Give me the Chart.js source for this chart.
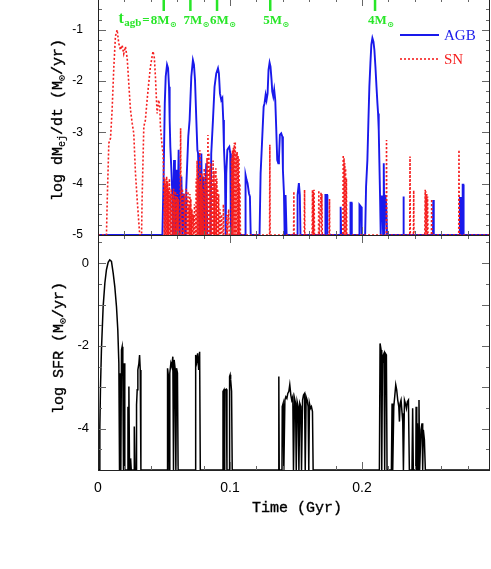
<!DOCTYPE html>
<html>
<head>
<meta charset="utf-8">
<script src="https://cdn.jsdelivr.net/npm/chart.js@4.4.1/dist/chart.umd.min.js"></script>
<style>
body { margin: 0; background: #fff; }
#wrap { position: relative; width: 491px; height: 569px; overflow: hidden; }
canvas { position: absolute; left: 0; }
#cTop { top: -2px; }
#cBot { top: 0; }
.title { position: absolute; font: 15px "Liberation Mono", monospace; white-space: nowrap; transform: translate(-50%, -50%); color: #000; -webkit-text-stroke: 0.35px #000; }
.rot { transform: translate(-50%, -50%) rotate(-90deg); }
.title sub { font-size: 10px; vertical-align: -3px; line-height: 0; -webkit-text-stroke: 0.2px #000; }
</style>
</head>
<body>
<div id="wrap">
<canvas id="cTop" width="491" height="260"></canvas>
<canvas id="cBot" width="491" height="569"></canvas>
<div class="title rot" style="left:58px;top:120px">log dM<sub>ej</sub>/dt (M<sub>⊙</sub>/yr)</div>
<div class="title rot" style="left:59px;top:348px">log SFR (M<sub>⊙</sub>/yr)</div>
<div class="title" style="left:297px;top:508px">Time (Gyr)</div>
</div>
<script>
// time axis (Gyr)
const tMin = 0;
const tMax = 0.297;

// t_agb markers: lifetime of the AGB progenitor masses
const agbMasses = ['8', '7', '6', '5', '4'];
const agbTimes = [0.0498, 0.0700, 0.0902, 0.1305, 0.2099];

// SN ejection rate, [time (Gyr), log dMej/dt]
const snPoints = [
  [0, -5], [.0064, -5], [.0070, -4.32], [.0082, -3.21], [.0095, -3.11], [.0107, -2.56], [.0120, -1.72], [.0132, -1.13],
  [.0145, -1.00], [.0157, -1.26], [.0170, -1.39], [.0183, -1.30], [.0195, -1.47], [.0208, -1.33], [.0221, -1.55],
  [.0233, -2.04], [.0246, -2.56], [.0259, -2.82], [.0271, -3.02], [.0284, -3.80], [.0297, -4.32], [.0316, -5],
  [.0330, -5], [.0334, -4.32], [.0347, -2.89], [.0359, -2.76], [.0372, -2.37], [.0384, -2.05], [.0397, -1.72],
  [.0410, -1.52], [.0417, -1.42], [.0427, -1.55], [.0435, -1.91], [.0443, -2.37], [.0448, -2.63], [.0460, -2.37],
  [.0468, -2.50], [.0473, -2.89], [.0486, -3.28], [.0493, -3.41], [.0498, -3.90], [.0502, -5],
  [.0506, -3.9], [.0510, -5], [.0513, -4.0], [.0517, -5], [.0520, -3.86], [.0524, -5], [.0527, -3.95], [.0531, -5],
  [.0534, -4.1], [.0538, -5], [.0541, -3.9], [.0545, -5], [.0548, -4.2], [.0552, -5], [.0555, -4.1], [.0559, -5],
  [.0566, -4.2], [.0570, -5], [.0573, -4.1], [.0577, -5], [.0580, -4.3], [.0584, -5], [.0587, -4.15], [.0591, -5],
  [.0594, -4.25], [.0598, -5], [.0601, -4.2], [.0605, -5], [.0608, -4.3], [.0612, -5],
  [.0622, -5], [.0626, -2.92], [.0630, -5],
  [.0640, -4.1], [.0644, -5], [.0647, -4.3], [.0651, -5], [.0654, -4.2], [.0658, -5], [.0661, -4.45], [.0665, -5],
  [.0668, -4.1], [.0672, -5], [.0675, -4.3], [.0679, -5], [.0682, -4.15], [.0686, -5], [.0689, -4.4], [.0693, -5],
  [.0696, -4.2], [.0700, -5], [.0703, -4.3], [.0707, -5], [.0712, -4.5], [.0716, -5], [.0722, -4.6], [.0726, -5],
  [.0731, -4.4], [.0735, -5],
  [.0740, -5], [.0744, -3.9], [.0748, -5], [.0751, -3.55], [.0755, -5], [.0758, -3.7], [.0762, -5], [.0765, -3.9],
  [.0769, -5], [.0772, -3.35], [.0776, -5], [.0779, -4.0], [.0783, -5], [.0786, -3.8], [.0790, -5], [.0793, -4.1], [.0797, -5],
  [.0805, -3.7], [.0809, -5], [.0812, -4.0], [.0816, -5], [.0819, -3.8], [.0823, -5], [.0826, -3.5], [.0830, -5],
  [.0833, -3.05], [.0837, -5], [.0840, -3.4], [.0844, -5], [.0847, -3.7], [.0851, -5], [.0854, -3.6], [.0858, -5],
  [.0865, -3.9], [.0869, -5], [.0872, -3.55], [.0876, -5], [.0879, -3.75], [.0883, -5], [.0886, -4.0], [.0890, -5],
  [.0893, -3.7], [.0897, -5], [.0900, -3.9], [.0904, -5], [.0907, -4.1], [.0911, -5], [.0914, -4.2], [.0918, -5],
  [.0925, -4.5], [.0929, -5], [.0936, -4.6], [.0940, -5],
  [.0948, -5], [.0950, -4.4], [.0953, -5], [.0973, -5], [.0975, -4.6], [.0978, -5], [.0990, -4.5], [.0994, -5],
  [.1010, -5], [.1012, -3.5], [.1016, -5], [.1019, -3.35], [.1023, -5], [.1026, -3.3], [.1030, -5], [.1033, -3.2],
  [.1037, -5], [.1040, -3.18], [.1044, -5], [.1047, -3.4], [.1051, -5], [.1054, -3.38], [.1058, -5], [.1061, -3.45],
  [.1065, -5], [.1068, -3.5], [.1072, -5], [.1075, -4.0], [.1079, -5],
  [.1300, -5], [.1302, -3.24], [.1304, -5],
  [.1482, -5], [.1484, -4.15], [.1486, -5],
  [.1563, -5], [.1565, -4.12], [.1567, -5],
  [.1622, -5], [.1625, -4.12], [.1628, -5], [.1631, -4.15], [.1634, -5], [.1637, -4.12], [.1640, -5],
  [.1671, -5], [.1673, -4.13], [.1676, -5], [.1690, -4.17], [.1693, -5], [.1696, -4.2], [.1699, -5],
  [.1752, -5], [.1754, -4.30], [.1756, -5],
  [.1855, -5], [.1858, -3.44], [.1861, -5], [.1864, -3.5], [.1867, -5], [.1870, -3.6], [.1873, -5], [.1876, -3.7],
  [.1879, -5], [.1882, -3.9], [.1885, -5],
  [.2184, -5], [.2186, -3.15], [.2188, -5],
  [.2362, -5], [.2364, -3.47], [.2366, -5],
  [.2390, -5], [.2392, -4.13], [.2394, -5],
  [.2476, -5], [.2479, -4.12], [.2482, -5], [.2485, -4.15], [.2488, -5], [.2491, -4.2], [.2494, -5], [.2497, -4.25], [.2500, -5],
  [.2526, -5], [.2528, -4.30], [.2530, -5],
  [.2733, -5], [.2735, -3.34], [.2737, -5],
  [.297, -5]
];

// AGB ejection rate, [time (Gyr), log dMej/dt]
const agbPoints = [
  [0, -5], [.0488, -5], [.0498, -3.73], [.0506, -2.43], [.0513, -1.91], [.0523, -1.68], [.0531, -1.75], [.0538, -2.11],
  [.0543, -2.76], [.0548, -3.28], [.0556, -3.73], [.0563, -4.19], [.0568, -5], [.0576, -3.54], [.0583, -5], [.0594, -3.73],
  [.0601, -5], [.0611, -3.34], [.0619, -5], [.0632, -3.86], [.0639, -5], [.0649, -4.19], [.0657, -5],
  [.0665, -5], [.0669, -4.06], [.0684, -3.08], [.0694, -2.76], [.0707, -1.91], [.0719, -1.59], [.0727, -1.68],
  [.0735, -1.98], [.0745, -2.76], [.0753, -3.34], [.0758, -3.41], [.0765, -4.06], [.0771, -5], [.0783, -3.41],
  [.0790, -5], [.0800, -3.86], [.0808, -5], [.0820, -3.6], [.0828, -5],
  [.0853, -5], [.0858, -3.41], [.0871, -2.76], [.0883, -2.11], [.0896, -1.85], [.0909, -1.75], [.0916, -1.85],
  [.0924, -2.24], [.0934, -2.37], [.0942, -2.33], [.0949, -2.76], [.0954, -3.28], [.0962, -3.80], [.0967, -5],
  [.0972, -3.80], [.0980, -3.34], [.0987, -3.31], [.0995, -3.28], [.1002, -3.41], [.1007, -5],
  [.1116, -5], [.1118, -3.83], [.1126, -3.93], [.1133, -3.99], [.1144, -4.19], [.1151, -4.25], [.1157, -5],
  [.1224, -5], [.1232, -3.80], [.1239, -3.41], [.1247, -2.95], [.1255, -2.50], [.1262, -2.43], [.1270, -2.27],
  [.1277, -2.37], [.1285, -2.24], [.1292, -1.78], [.1300, -1.64], [.1307, -1.72], [.1315, -1.98], [.1320, -2.20],
  [.1328, -2.30], [.1335, -2.17], [.1343, -2.37], [.1350, -2.89], [.1358, -3.54], [.1366, -3.60], [.1371, -3.50],
  [.1378, -3.05], [.1388, -3.02], [.1396, -3.08], [.1401, -3.73], [.1409, -4.19], [.1414, -5], [.1419, -5],
  [.1421, -4.22], [.1429, -5],
  [.1510, -5], [.1512, -4.22], [.1522, -3.99], [.1529, -4.22], [.1534, -5],
  [.1721, -5], [.1723, -4.22], [.1736, -4.22], [.1738, -5],
  [.1835, -5], [.1837, -4.45], [.1840, -4.45], [.1842, -5],
  [.1911, -5], [.1913, -4.37], [.1921, -4.37], [.1923, -5],
  [.1979, -5], [.1981, -4.41], [.1993, -4.45], [.1998, -5],
  [.2024, -5], [.2031, -4.06], [.2041, -3.54], [.2049, -2.76], [.2056, -2.11], [.2064, -1.65], [.2071, -1.29],
  [.2079, -1.16], [.2087, -1.23], [.2094, -1.39], [.2102, -1.72], [.2110, -2.11], [.2117, -2.43], [.2122, -2.63],
  [.2127, -2.95], [.2132, -3.60], [.2137, -4.25], [.2142, -5], [.2147, -4.25], [.2155, -4.25], [.2160, -5],
  [.2165, -3.60], [.2170, -5], [.2175, -4.22], [.2183, -4.38], [.2190, -5],
  [.2311, -5], [.2313, -4.25], [.2316, -4.25], [.2318, -5],
  [.2538, -5], [.2540, -4.32], [.2543, -4.32], [.2545, -5],
  [.2740, -5], [.2742, -4.28], [.2750, -4.28], [.2753, -5], [.2761, -5], [.2763, -4.02], [.2768, -4.02], [.2770, -5],
  [.297, -5]
];

// star formation rate, [time (Gyr), log SFR]
const sfrPoints = [
  [0, -5], [.0009, -5], [.0014, -3.95], [.0019, -2.98], [.0026, -2.10], [.0039, -1.05], [.0052, -0.48], [.0064, -0.16],
  [.0077, 0.02], [.0089, 0.08], [.0102, 0.04], [.0115, -0.24], [.0127, -0.56], [.0140, -1.05], [.0150, -1.61],
  [.0158, -2.42], [.0163, -5],
  [.0168, -2.66], [.0173, -5], [.0178, -2.10], [.0183, -2.02], [.0188, -2.50], [.0193, -5], [.0198, -2.42], [.0203, -5],
  [.0224, -5], [.0227, -3.47], [.0229, -5], [.0234, -2.98], [.0239, -5], [.0245, -5], [.0247, -4.72], [.0252, -5],
  [.0273, -5], [.0275, -3.95], [.0281, -5], [.0290, -5], [.0292, -3.43], [.0297, -3.06], [.0302, -2.58], [.0310, -2.42],
  [.0315, -2.22], [.0320, -2.58], [.0325, -5],
  [.0524, -5], [.0527, -2.54], [.0534, -2.74], [.0539, -5], [.0544, -2.66], [.0552, -2.42], [.0559, -2.50],
  [.0567, -2.26], [.0572, -5], [.0577, -2.34], [.0584, -2.54], [.0590, -5], [.0595, -2.54], [.0602, -2.66], [.0607, -5],
  [.0738, -5], [.0740, -2.22], [.0748, -2.38], [.0755, -2.18], [.0763, -2.58], [.0770, -2.14], [.0775, -5],
  [.0945, -5], [.0947, -3.10], [.0954, -3.06], [.0958, -5], [.0960, -3.06], [.0966, -3.06], [.0972, -3.05], [.0977, -5],
  [.0995, -5], [.0997, -2.74], [.1001, -2.70], [.1005, -2.82], [.1012, -3.10], [.1017, -5],
  [.1368, -5], [.1370, -2.74], [.1373, -5],
  [.1394, -5], [.1396, -3.47], [.1403, -3.39], [.1408, -5], [.1416, -3.31], [.1423, -3.23], [.1431, -3.27],
  [.1438, -3.15], [.1446, -3.10], [.1453, -2.94], [.1461, -3.19], [.1468, -3.31], [.1476, -3.23], [.1481, -5],
  [.1489, -3.27], [.1497, -3.39], [.1502, -5], [.1509, -3.35], [.1517, -3.47], [.1522, -5], [.1529, -3.39],
  [.1537, -3.47], [.1542, -5], [.1550, -3.31], [.1557, -3.19], [.1565, -3.15], [.1570, -5], [.1577, -3.23],
  [.1585, -3.31], [.1592, -3.47], [.1597, -5], [.1602, -3.39], [.1610, -3.51], [.1617, -3.47], [.1625, -3.59], [.1630, -5],
  [.2132, -5], [.2137, -1.94], [.2145, -2.10], [.2150, -5], [.2155, -2.42], [.2162, -2.22], [.2167, -2.18], [.2172, -5],
  [.2177, -2.18], [.2185, -2.22], [.2190, -5],
  [.2223, -5], [.2228, -3.39], [.2233, -5], [.2241, -3.47], [.2248, -3.23], [.2256, -2.94], [.2263, -3.06],
  [.2271, -3.31], [.2279, -3.47], [.2284, -3.83], [.2289, -3.39], [.2296, -3.31], [.2304, -3.63], [.2309, -3.83],
  [.2314, -5], [.2322, -3.31], [.2329, -3.39], [.2337, -3.51], [.2344, -3.35], [.2352, -3.31], [.2359, -5],
  [.2379, -5], [.2384, -3.51], [.2389, -5], [.2408, -5], [.2410, -3.47], [.2415, -5], [.2420, -3.87], [.2425, -5],
  [.2432, -3.31], [.2437, -5], [.2447, -4.03], [.2455, -3.87], [.2460, -5], [.2465, -4.03], [.2473, -4.27], [.2480, -5],
  [.297, -5]
];

const blue = 'rgb(25,25,235)';
const red = 'rgb(245,30,30)';
const green = 'rgb(40,230,40)';

const xy = pts => pts.map(([x, y]) => ({ x, y }));

// frame + inward tick marks on all four sides
const frameTicks = {
  id: 'frameTicks',
  afterDatasetsDraw(chart, args, o) {
    const { ctx, chartArea: a, scales: { x, y } } = chart;
    const isMajor = (v, m) => Math.abs(v / m - Math.round(v / m)) < 1e-6;
    ctx.save();
    ctx.strokeStyle = '#666';
    ctx.lineWidth = 1;
    ctx.beginPath();
    for (let k = Math.ceil(x.min / o.xMinor - 1e-6); k * o.xMinor <= x.max + 1e-9; k++) {
      const v = k * o.xMinor;
      const len = isMajor(v, o.xMajor) ? 8 : 4;
      const px = Math.round(x.getPixelForValue(v)) + 0.5;
      ctx.moveTo(px, a.bottom); ctx.lineTo(px, a.bottom - len);
      ctx.moveTo(px, a.top); ctx.lineTo(px, a.top + len);
    }
    for (let k = Math.ceil(y.min / o.yMinor - 1e-6); k * o.yMinor <= y.max + 1e-9; k++) {
      const v = k * o.yMinor;
      const len = isMajor(v, o.yMajor) ? 8 : 4;
      const py = Math.round(y.getPixelForValue(v)) + 0.5;
      ctx.moveTo(a.left, py); ctx.lineTo(a.left + len, py);
      ctx.moveTo(a.right, py); ctx.lineTo(a.right - len, py);
    }
    ctx.stroke();
    ctx.strokeStyle = '#222';
    ctx.strokeRect(a.left + 0.5, a.top + 0.5, a.right - a.left - 1, a.bottom - a.top);
    ctx.restore();
  }
};

function solarMass(ctx, num, x, y) {
  ctx.font = 'bold 13px "Liberation Serif"';
  ctx.textAlign = 'left';
  ctx.fillText(num + 'M', x, y);
  const w = ctx.measureText(num + 'M').width;
  ctx.font = 'bold 8px "DejaVu Sans"';
  ctx.fillText('\u2299', x + w + 0.5, y + 3);
}

// green t_agb markers hanging from the top edge
const agbMarks = {
  id: 'agbMarks',
  afterDatasetsDraw(chart) {
    const { ctx, chartArea: a, scales: { x } } = chart;
    ctx.save();
    ctx.strokeStyle = green;
    ctx.fillStyle = green;
    ctx.lineWidth = 2.5;
    ctx.textBaseline = 'alphabetic';
    agbTimes.forEach((t, i) => {
      const px = x.getPixelForValue(t);
      ctx.beginPath();
      ctx.moveTo(px, a.top);
      ctx.lineTo(px, a.top + 13);
      ctx.stroke();
      const x0 = px - (i === 0 ? 13 : 7);
      solarMass(ctx, agbMasses[i], x0, a.top + 26);
      if (i === 0) {
        ctx.textAlign = 'right';
        ctx.font = 'bold 13px "Liberation Serif"';
        let xs = x0 - 1;
        ctx.fillText('=', xs, a.top + 26);
        xs -= ctx.measureText('=').width + 1;
        ctx.font = 'bold 11px "Liberation Serif"';
        ctx.fillText('agb', xs, a.top + 28);
        xs -= ctx.measureText('agb').width + 0.5;
        ctx.font = 'bold 16px "Liberation Serif"';
        ctx.fillText('t', xs, a.top + 25);
      }
    });
    ctx.restore();
  }
};

// legend in the upper right corner
const cornerLegend = {
  id: 'cornerLegend',
  afterDatasetsDraw(chart) {
    const { ctx, chartArea: a } = chart;
    const rows = [
      { label: 'AGB', color: blue, dash: [], width: 1.8 },
      { label: 'SN', color: red, dash: [2, 2], width: 1.6 }
    ];
    ctx.save();
    ctx.font = '15px "Liberation Serif"';
    ctx.textBaseline = 'middle';
    ctx.textAlign = 'left';
    rows.forEach((r, i) => {
      const yy = a.top + 37 + i * 24;
      ctx.strokeStyle = r.color;
      ctx.lineWidth = r.width;
      ctx.setLineDash(r.dash);
      ctx.beginPath();
      ctx.moveTo(a.right - 90, yy);
      ctx.lineTo(a.right - 51, yy);
      ctx.stroke();
      ctx.fillStyle = r.color;
      ctx.fillText(r.label, a.right - 46, yy + 1);
    });
    ctx.restore();
  }
};

function yAxis(min, max, step, size, pad) {
  return {
    type: 'linear', min, max,
    grid: { display: false, drawTicks: false },
    border: { display: false },
    ticks: { stepSize: step, includeBounds: false, padding: pad, color: '#000',
      font: { family: '"Liberation Sans", Arial, sans-serif', size } },
    afterFit(s) { s.width = 98; s.paddingTop = 0; s.paddingBottom = 0; }
  };
}

const baseOptions = {
  responsive: false,
  animation: false,
  devicePixelRatio: 1,
  elements: { point: { radius: 0 }, line: { tension: 0 } },
  events: []
};

new Chart(document.getElementById('cTop'), {
  type: 'line',
  data: {
    datasets: [
      { label: 'SN', data: xy(snPoints), borderColor: red, borderWidth: 1.6, borderDash: [2, 2] },
      { label: 'AGB', data: xy(agbPoints), borderColor: blue, borderWidth: 1.9 }
    ]
  },
  options: {
    ...baseOptions,
    layout: { padding: { left: 0, right: 1, top: 0, bottom: 23 } },
    plugins: {
      legend: { display: false },
      tooltip: { enabled: false },
      frameTicks: { xMinor: 0.02, xMajor: 0.1, yMinor: 0.2, yMajor: 1 }
    },
    scales: {
      x: { type: 'linear', min: tMin, max: tMax, display: false },
      y: yAxis(-5, -0.38, 1, 12, 15)
    }
  },
  plugins: [frameTicks, agbMarks, cornerLegend]
});

new Chart(document.getElementById('cBot'), {
  type: 'line',
  data: {
    datasets: [
      { label: 'SFR', data: xy(sfrPoints), borderColor: '#000', borderWidth: 1.5 }
    ]
  },
  options: {
    ...baseOptions,
    layout: { padding: { left: 0, right: 1, top: 235, bottom: 0 } },
    plugins: {
      legend: { display: false },
      tooltip: { enabled: false },
      frameTicks: { xMinor: 0.02, xMajor: 0.1, yMinor: 0.5, yMajor: 1 }
    },
    scales: {
      x: {
        type: 'linear', min: tMin, max: tMax,
        grid: { display: false, drawTicks: false },
        border: { display: false },
        ticks: { stepSize: 0.1, includeBounds: false, padding: 10, color: '#000', maxRotation: 0,
          font: { family: '"Liberation Sans", Arial, sans-serif', size: 14 } },
        afterFit(s) { s.height = 99; s.paddingLeft = 0; s.paddingRight = 0; }
      },
      y: yAxis(-5, 0.68, 2, 13, 9)
    }
  },
  plugins: [frameTicks]
});
</script>
</body>
</html>
